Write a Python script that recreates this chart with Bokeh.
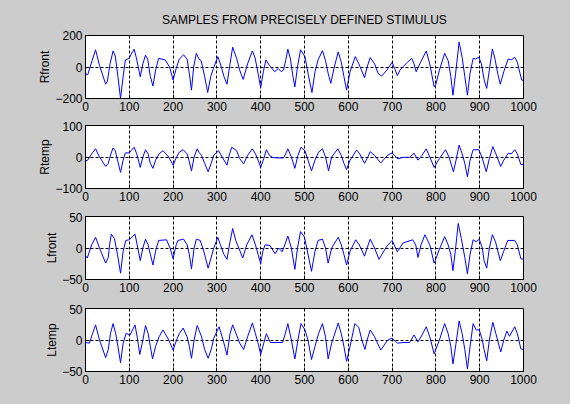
from bokeh.plotting import figure
from bokeh.layouts import column
from bokeh.models import FixedTicker
from bokeh.embed import file_html
from bokeh.resources import INLINE

title_text = "SAMPLES FROM PRECISELY DEFINED STIMULUS"
x_ticks = [0, 100, 200, 300, 400, 500, 600, 700, 800, 900, 1000]

rfront_x = [0, 5, 15, 23, 32, 46, 50, 56, 63, 68, 74, 80, 86, 91, 100, 104, 111, 116, 125, 131, 137, 142, 148, 154, 160, 167, 182, 192, 200, 207, 214, 224, 232, 237, 242, 247, 253, 259, 264, 272, 279, 286, 292, 302, 308, 316, 323, 330, 336, 345, 352, 360, 370, 381, 387, 394, 400, 406, 412, 420, 432, 440, 447, 452, 457, 462, 468, 473, 478, 484, 491, 501, 508, 517, 524, 531, 541, 548, 554, 560, 568, 577, 584, 590, 596, 604, 616, 624, 630, 637, 643, 650, 660, 668, 676, 688, 700, 706, 712, 718, 725, 735, 745, 750, 755, 765, 778, 786, 796, 800, 808, 820, 828, 834, 839, 845, 853, 860, 866, 872, 878, 885, 890, 898, 904, 910, 916, 922, 929, 935, 941, 947, 955, 965, 972, 980, 986, 992, 996, 1000]
rfront_y = [-40, -50, 40, 109, 10, -109, -90, 20, 102, 70, -60, -200, -60, 45, 55, 80, 113, 60, -62, 20, 75, 50, -60, -121, -20, 55, 45, 0, -83, -10, 50, 77, 50, -40, -147, 0, 87, 51, 40, -60, -162, -60, -10, 66, 20, -60, -109, 20, 126, 55, -20, -79, 20, 102, 60, -40, -132, -30, 45, 10, -30, -10, -30, -20, 40, 113, 50, -50, -126, 0, 109, 66, -40, -162, -30, 45, 104, 40, -40, -104, 0, 96, 30, -60, -147, -30, 66, 20, -19, -68, 0, 60, 20, -40, -58, -20, 30, -10, -55, -20, 2, 30, 55, 20, -30, 30, 102, 20, -126, -110, -20, 87, 40, -60, -179, -40, 158, 60, -60, -179, -40, 55, 50, 62, 20, -80, -136, -20, 115, 50, -40, -109, -30, 51, 45, 62, 30, -40, -83, -85]

rtemp_x = [0, 5, 14, 23, 32, 46, 52, 58, 63, 68, 74, 80, 86, 91, 100, 104, 111, 117, 125, 131, 137, 143, 148, 154, 160, 168, 177, 190, 200, 208, 214, 223, 232, 237, 242, 248, 255, 259, 265, 272, 280, 287, 293, 304, 312, 323, 329, 334, 345, 352, 361, 370, 381, 388, 394, 400, 407, 413, 420, 428, 440, 452, 457, 462, 470, 478, 485, 492, 501, 508, 516, 524, 532, 541, 548, 555, 562, 576, 584, 590, 596, 604, 619, 626, 637, 643, 650, 660, 674, 690, 700, 713, 725, 740, 750, 759, 768, 778, 786, 796, 808, 822, 830, 840, 846, 853, 860, 866, 872, 878, 885, 898, 905, 915, 922, 930, 937, 948, 955, 965, 972, 980, 986, 994, 1000]
rtemp_y = [-12, -10, 10, 26, 0, -30, -20, 10, 29, 20, -15, -49, -10, 13, 13, 20, 31, 10, -33, 0, 23, 10, -20, -36, -10, 10, 20, 0, -26, 0, 15, 23, 10, -15, -44, 0, 26, 15, 5, -20, -47, -20, 6, 20, 0, -26, 10, 31, 20, -5, -22, 5, 26, 10, -10, -33, -5, 23, 5, -2, -3, -3, 10, 26, 0, -36, 5, 31, 20, -10, -44, -10, 15, 26, 0, -44, 0, 26, 5, -20, -40, -10, 22, 10, -20, -5, 17, 5, -19, 6, 13, -6, -1, -1, 12, -10, 5, 26, 0, -33, -5, 23, 0, -47, -10, 38, 10, -20, -63, -10, 23, 23, 0, -47, -5, 33, 10, -30, -10, 12, 10, 23, 10, -24, -24]

lfront_x = [0, 4, 14, 23, 32, 46, 52, 55, 59, 66, 73, 80, 86, 92, 100, 113, 118, 125, 131, 137, 143, 148, 154, 160, 167, 185, 193, 200, 207, 211, 224, 232, 237, 242, 248, 253, 262, 270, 280, 287, 292, 302, 308, 316, 323, 330, 336, 343, 350, 359, 368, 380, 388, 394, 400, 405, 410, 421, 433, 441, 449, 455, 462, 470, 478, 484, 491, 500, 508, 516, 524, 531, 541, 548, 554, 562, 577, 584, 590, 596, 604, 617, 625, 637, 643, 650, 660, 670, 688, 700, 712, 725, 747, 754, 759, 766, 775, 786, 796, 808, 820, 828, 834, 839, 845, 851, 858, 866, 872, 878, 885, 892, 899, 906, 910, 916, 922, 929, 936, 947, 955, 964, 980, 986, 994, 1000]
lfront_y = [-12, -16, 5, 17, 0, -24, -15, 5, 22, 15, -10, -40, -5, 12, 13, 22, 5, -20, 0, 14, 5, -10, -27, -5, 12, 13, 0, -17, 5, 12, 14, 5, -10, -33, 0, 14, 12, -5, -32, -15, -2, 17, 5, -10, -18, 10, 31, 12, 0, -16, 5, 21, 5, -10, -25, -5, 5, 4, -9, 0, -6, 5, 19, 0, -34, 0, 26, 17, -10, -37, -5, 12, 14, 0, -24, 0, 17, 5, -10, -27, -5, 13, 5, -13, 0, 14, 0, -18, 3, 12, -6, 8, 13, 5, -15, 5, 21, 5, -24, -2, 18, 5, -10, -36, 0, 39, 15, -15, -41, -10, 13, 10, 14, 0, -20, -32, 0, 21, 10, -20, -5, 12, 12, 5, -17, -18]

ltemp_x = [0, 9, 16, 23, 32, 46, 52, 57, 63, 69, 74, 80, 86, 93, 101, 113, 118, 124, 131, 137, 143, 148, 153, 160, 168, 177, 190, 200, 208, 214, 223, 232, 237, 242, 248, 255, 259, 265, 272, 280, 287, 293, 305, 312, 318, 323, 330, 336, 345, 352, 361, 370, 381, 388, 394, 400, 407, 413, 422, 450, 456, 462, 470, 478, 485, 492, 501, 508, 516, 524, 532, 541, 548, 554, 562, 577, 584, 590, 596, 604, 615, 624, 631, 638, 643, 650, 660, 674, 690, 700, 712, 725, 740, 750, 759, 766, 778, 786, 796, 808, 820, 828, 834, 839, 846, 853, 860, 866, 872, 878, 885, 892, 899, 906, 910, 916, 922, 930, 937, 948, 955, 962, 968, 980, 986, 994, 1000]
ltemp_y = [-4, -5, 10, 24, 0, -28, -15, 10, 26, 10, -10, -36, -5, 11, 7, 24, 5, -23, 0, 23, 10, -10, -30, -10, 5, 16, 0, -16, 0, 10, 19, 5, -10, -29, 0, 23, 16, 5, -15, -29, -15, 3, 21, 5, -10, -24, 10, 24, 8, -5, -15, 5, 27, 10, -5, -23, -5, 10, -4, -4, 10, 26, 0, -30, 0, 26, 16, 0, -31, -10, 10, 26, 5, -30, -5, 27, 10, -10, -34, -10, 26, 20, 0, -15, 0, 16, 5, -16, 0, 3, -5, -4, -4, 8, -3, 5, 21, 5, -22, 0, 26, 10, -10, -38, -5, 30, 10, -15, -46, -10, 26, 16, 16, 0, -15, -33, 0, 28, 10, -19, 0, 14, 6, 21, 10, -14, -15]

series = [
    ("Rfront", rfront_x, rfront_y, 200),
    ("Rtemp", rtemp_x, rtemp_y, 100),
    ("Lfront", lfront_x, lfront_y, 50),
    ("Ltemp", ltemp_x, ltemp_y, 50),
]

GRAY = "#cccccc"
FONT = "Liberation Sans"
tops = [35, 4, 4, 4]
bottoms = [23, 24, 25, 33]
FRAME_H = 63

figs = []
for i, (name, xs, ys, lim) in enumerate(series):
    h = tops[i] + FRAME_H + bottoms[i]
    p = figure(width=570, height=h, x_range=(0, 1000), y_range=(-lim, lim),
               output_backend="svg", toolbar_location=None,
               min_border_left=85, min_border_right=47,
               min_border_top=tops[i], min_border_bottom=bottoms[i],
               border_fill_color=GRAY, background_fill_color="white",
               outline_line_color="black", outline_line_width=1)
    if i == 0:
        p.title.text = title_text
        p.title.align = "center"
        p.title.text_font = FONT
        p.title.text_font_size = "12px"
        p.title.text_font_style = "normal"
        p.title.text_color = "black"
        p.title.standoff = 17
    p.line(xs, ys, line_color="#0000ff", line_width=1)

    p.xaxis.ticker = FixedTicker(ticks=x_ticks)
    p.yaxis.ticker = FixedTicker(ticks=[-lim, 0, lim])
    p.yaxis.axis_label = name
    for ax in (p.xaxis[0], p.yaxis[0]):
        ax.major_tick_in = 4
        ax.major_tick_out = 0
        ax.minor_tick_line_color = None
        ax.axis_line_color = "black"
        ax.major_tick_line_color = "black"
        ax.major_label_text_font = FONT
        ax.major_label_text_font_size = "12px"
        ax.major_label_text_color = "black"
        ax.major_label_standoff = 3
        ax.axis_label_text_font = FONT
        ax.axis_label_text_font_size = "12px"
        ax.axis_label_text_font_style = "normal"
        ax.axis_label_text_color = "black"
        ax.axis_label_standoff = 0
    for g in (p.xgrid[0], p.ygrid[0]):
        g.grid_line_color = "black"
        g.grid_line_dash = "3 2"
        g.grid_line_width = 1
    figs.append(p)

layout = column(*figs, spacing=0, styles={"background-color": GRAY})
open("out.html", "w").write(file_html(layout, INLINE))
